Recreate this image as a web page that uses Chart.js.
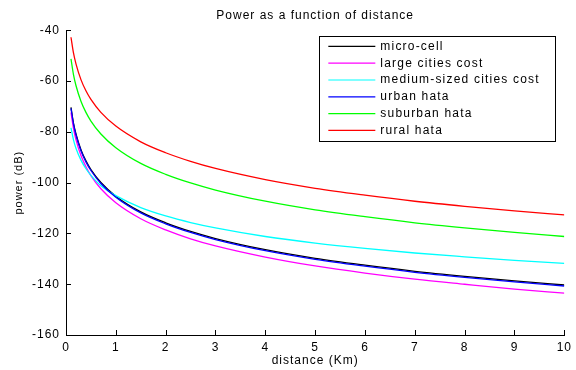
<!DOCTYPE html>
<html>
<head>
<meta charset="utf-8">
<script src="https://cdn.jsdelivr.net/npm/chart.js@4.4.0/dist/chart.umd.min.js"></script>
<style>
  html, body { margin: 0; padding: 0; background: #fff; }
</style>
</head>
<body>
<canvas id="powerChart" width="576" height="370"></canvas>
<script>
// distance in km, power in dB
const distances = [0.1, 0.15, 0.2, 0.3, 0.4, 0.5, 0.7, 1, 1.5, 2, 2.5, 3, 4, 5, 6, 7, 8, 9, 10];
const microCell = [-70.3, -76.5, -80.8, -87.0, -91.4, -94.8, -99.9, -105.3, -111.5, -115.8, -119.2, -122.0, -126.4, -129.8, -132.5, -134.9, -136.9, -138.7, -140.3];
const largeCitiesCost = [-72.3, -78.6, -83.0, -89.3, -93.7, -97.2, -102.4, -107.9, -114.2, -118.6, -122.1, -124.9, -129.3, -132.8, -135.6, -138.0, -140.0, -141.9, -143.5];
const mediumCitiesCost = [-78.4, -83.1, -86.4, -91.1, -94.5, -97.1, -101.2, -105.1, -109.8, -113.1, -115.7, -117.8, -121.2, -123.8, -125.9, -127.7, -129.2, -130.6, -131.8];
const urbanHata = [-70.7, -76.9, -81.2, -87.4, -91.8, -95.2, -100.3, -105.7, -111.9, -116.2, -119.6, -122.4, -126.8, -130.2, -132.9, -135.3, -137.3, -139.1, -140.7];
const suburbanHata = [-51.2, -57.4, -61.7, -67.9, -72.3, -75.7, -80.8, -86.2, -92.4, -96.7, -100.1, -102.9, -107.3, -110.7, -113.4, -115.8, -117.8, -119.6, -121.2];
const ruralHata = [-42.7, -48.9, -53.2, -59.4, -63.8, -67.2, -72.3, -77.7, -83.9, -88.2, -91.6, -94.4, -98.8, -102.2, -104.9, -107.3, -109.3, -111.1, -112.7];

const seriesNames = ['micro-cell', 'large cities cost', 'medium-sized cities cost', 'urban hata', 'suburban hata', 'rural hata'];
const seriesValues = [microCell, largeCitiesCost, mediumCitiesCost, urbanHata, suburbanHata, ruralHata];
const seriesColors = ['#000000', '#ff00ff', '#00ffff', '#0000ff', '#00ff00', '#ff0000'];

const xTicks = { min: 0, max: 10, step: 1 };
const yTicks = { min: -160, max: -40, step: 20 };

const FONT = "'Liberation Sans', Arial, sans-serif";

// matlab style: letter spaced text
const spacing = {
  id: 'spacing',
  beforeDraw(chart) { chart.ctx.letterSpacing = '1px'; }
};

// tick marks pointing into the plot
const innerTicks = {
  id: 'innerTicks',
  afterDraw(chart) {
    const { ctx, chartArea, scales } = chart;
    ctx.save();
    ctx.strokeStyle = '#000';
    ctx.lineWidth = 1;
    ctx.beginPath();
    scales.x.ticks.forEach(t => {
      const px = Math.round(scales.x.getPixelForValue(t.value)) + 0.5;
      ctx.moveTo(px, chartArea.bottom);
      ctx.lineTo(px, chartArea.bottom - 5);
    });
    scales.y.ticks.forEach(t => {
      const py = Math.round(scales.y.getPixelForValue(t.value)) + 0.5;
      ctx.moveTo(chartArea.left, py);
      ctx.lineTo(chartArea.left + 5, py);
    });
    ctx.stroke();
    ctx.restore();
  }
};

// boxed legend in the upper right corner
const boxLegend = {
  id: 'boxLegend',
  afterDraw(chart) {
    const { ctx, chartArea } = chart;
    const bw = 236, bh = 105;
    const bx = chartArea.right - 9 - bw;
    const by = chartArea.top + 6;
    ctx.save();
    ctx.fillStyle = '#fff';
    ctx.fillRect(bx, by, bw, bh);
    ctx.strokeStyle = '#000';
    ctx.lineWidth = 1;
    ctx.strokeRect(Math.round(bx) + 0.5, Math.round(by) + 0.5, bw, bh);
    ctx.font = '12px ' + FONT;
    ctx.letterSpacing = '1.2px';
    ctx.textBaseline = 'middle';
    ctx.fillStyle = '#000';
    chart.data.datasets.forEach((ds, i) => {
      const y = by + 10 + i * 16.8;
      ctx.strokeStyle = ds.borderColor;
      ctx.lineWidth = 1.2;
      ctx.beginPath();
      ctx.moveTo(bx + 9, y);
      ctx.lineTo(bx + 56, y);
      ctx.stroke();
      ctx.fillText(ds.label, bx + 61, y);
    });
    ctx.restore();
  }
};

new Chart(document.getElementById('powerChart'), {
  type: 'line',
  data: {
    datasets: seriesNames.map((name, i) => ({
      label: name,
      data: distances.map((d, j) => ({ x: d, y: seriesValues[i][j] })),
      borderColor: seriesColors[i],
      borderWidth: 1.3,
      pointRadius: 0,
      cubicInterpolationMode: 'monotone',
      fill: false,
      order: seriesNames.length - i
    }))
  },
  options: {
    responsive: false,
    animation: false,
    layout: { padding: { left: 0, right: 10, top: 0, bottom: 0 } },
    plugins: {
      legend: { display: false },
      tooltip: { enabled: false },
      title: {
        display: true,
        text: 'Power as a function of distance',
        color: '#000',
        fullSize: false,
        font: { family: FONT, size: 12, weight: 'normal' },
        padding: { top: 8, bottom: 8 }
      }
    },
    scales: {
      x: {
        type: 'linear',
        min: xTicks.min,
        max: xTicks.max,
        ticks: { stepSize: xTicks.step, color: '#000', font: { family: FONT, size: 12 }, padding: 5, maxRotation: 0 },
        grid: { drawOnChartArea: false, drawTicks: false },
        border: { color: '#000', width: 1 },
        title: { display: true, text: 'distance (Km)', color: '#000', font: { family: FONT, size: 12 }, padding: { top: 0, bottom: 2 } },
        afterFit: s => { s.height = 35; }
      },
      y: {
        type: 'linear',
        min: yTicks.min,
        max: yTicks.max,
        ticks: { stepSize: yTicks.step, color: '#000', font: { family: FONT, size: 12 }, padding: 6 },
        grid: { drawOnChartArea: false, drawTicks: false },
        border: { color: '#000', width: 1 },
        title: { display: true, text: 'power (dB)', color: '#000', font: { family: FONT, size: 11 }, padding: { top: 12, bottom: 0 } },
        afterFit: s => { s.width = 66; }
      }
    }
  },
  plugins: [spacing, innerTicks, boxLegend]
});
</script>
</body>
</html>
